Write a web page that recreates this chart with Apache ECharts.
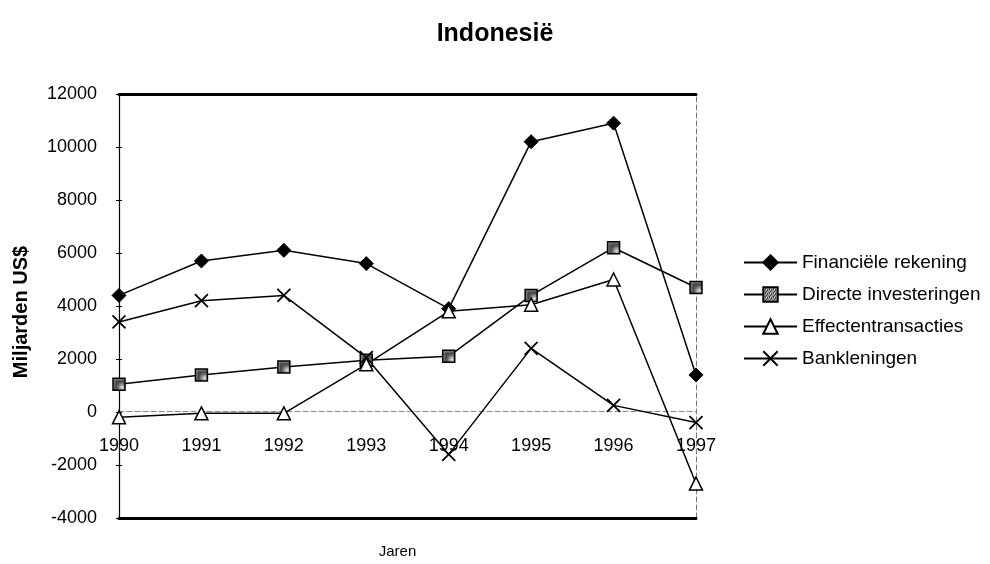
<!DOCTYPE html>
<html>
<head>
<meta charset="utf-8">
<script src="https://cdn.jsdelivr.net/npm/echarts@6/dist/echarts.min.js"></script>
<style>
  html, body { margin: 0; padding: 0; background: #fff; }
  #chart { width: 990px; height: 564px; }
</style>
</head>
<body>
<div id="chart"></div>
<script>
// Kapitaalstromen Indonesië, 1990-1997 (miljarden US$)
const years = ['1990', '1991', '1992', '1993', '1994', '1995', '1996', '1997'];
const financieleRekening = [4400, 5700, 6100, 5600, 3900, 10200, 10900, 1400];
const directeInvesteringen = [1050, 1400, 1700, 1950, 2100, 4400, 6200, 4700];
const effectentransacties = [-200, -50, -50, 1800, 3800, 4050, 5000, -2700];
const bankleningen = [3400, 4200, 4400, 2050, -1600, 2400, 250, -400];

const FONT = 'Liberation Sans';
const Y_MIN = -4000, Y_MAX = 12000, Y_STEP = 2000;
const GRID = { left: 119, right: 294, top: 94, bottom: 42 };

// distance from the bottom of the plot to the zero line, so the year labels sit on y = 0
const plotHeight = 564 - GRID.top - GRID.bottom;
const zeroOffset = plotHeight * (0 - Y_MIN) / (Y_MAX - Y_MIN);

// checkered fill for the square markers
function checker() {
  const c = document.createElement('canvas');
  c.width = 4; c.height = 4;
  const g = c.getContext('2d');
  g.fillStyle = '#444';
  g.fillRect(0, 0, 4, 4);
  g.fillStyle = '#e8e8e8';
  g.fillRect(0, 0, 1, 1);
  g.fillRect(2, 0, 1, 1);
  g.fillRect(1, 1, 1, 1);
  g.fillRect(3, 2, 1, 1);
  g.fillRect(0, 2, 1, 1);
  g.fillRect(2, 3, 1, 1);
  return { image: c, repeat: 'repeat' };
}

const chart = echarts.init(document.getElementById('chart'), null, { renderer: 'canvas' });

const crossPath = 'path://M0,0L10,10M10,0L0,10';

function lineSeries(name, data, symbol, size, itemStyle) {
  return {
    name, type: 'line', data,
    xAxisIndex: 0, yAxisIndex: 0,
    symbol, symbolSize: size, showAllSymbol: true,
    lineStyle: { color: '#000', width: 1.5 },
    itemStyle,
    emphasis: { disabled: true },
    animation: false,
    z: 3
  };
}

const yBase = { type: 'value', min: Y_MIN, max: Y_MAX, interval: Y_STEP };

chart.setOption({
  backgroundColor: '#fff',
  textStyle: { fontFamily: FONT, color: '#000' },
  title: {
    text: 'Indonesië',
    left: 'center', top: 17,
    textStyle: { fontFamily: FONT, fontWeight: 'bold', fontSize: 25, color: '#000' }
  },
  grid: Object.assign({ containLabel: false }, GRID),
  legend: {
    orient: 'vertical',
    left: 738, top: 248,
    itemWidth: 53, itemHeight: 18, itemGap: 13,
    textStyle: { fontFamily: FONT, fontSize: 19, color: '#000', lineHeight: 18 },
    data: ['Financiële rekening', 'Directe investeringen', 'Effectentransacties', 'Bankleningen']
  },
  xAxis: [
    {
      type: 'category', data: years, boundaryGap: false,
      position: 'bottom', offset: -zeroOffset,
      axisLine: { onZero: false, lineStyle: { color: '#888', width: 1, type: [5, 3] } },
      axisTick: { show: false },
      axisLabel: { fontFamily: FONT, fontSize: 18, color: '#000', margin: 26 },
      splitLine: { show: false }
    },
    {
      type: 'category', data: years, boundaryGap: false, position: 'top',
      axisLine: { onZero: false, lineStyle: { color: '#000', width: 3 } },
      axisTick: { show: false }, axisLabel: { show: false }, splitLine: { show: false }
    },
    {
      type: 'category', data: years, boundaryGap: false, position: 'bottom',
      axisLine: { onZero: false, lineStyle: { color: '#000', width: 3 } },
      axisTick: { show: false }, axisLabel: { show: false }, splitLine: { show: false },
      name: 'Jaren', nameLocation: 'middle', nameGap: 26,
      nameTextStyle: { fontFamily: FONT, fontSize: 15, color: '#000', padding: [0, 20, 0, 0] }
    }
  ],
  yAxis: [
    Object.assign({}, yBase, {
      position: 'left',
      axisLine: { show: true, onZero: false, lineStyle: { color: '#000', width: 1.2 } },
      axisTick: { show: true, length: 3, lineStyle: { color: '#000' } },
      axisLabel: { fontFamily: FONT, fontSize: 18, color: '#000', margin: 22, formatter: v => String(v) },
      splitLine: { show: false },
      name: 'Miljarden US$', nameLocation: 'middle', nameGap: 88,
      nameTextStyle: { fontFamily: FONT, fontSize: 20, fontWeight: 'bold', color: '#000', padding: [0, 12, 0, 0] }
    }),
    Object.assign({}, yBase, {
      position: 'left',
      axisLine: { show: false, onZero: false },
      axisTick: { show: true, inside: true, length: 3, lineStyle: { color: '#000' } },
      axisLabel: { show: false }, splitLine: { show: false }
    }),
    Object.assign({}, yBase, {
      position: 'right',
      axisLine: { show: true, onZero: false, lineStyle: { color: '#777', width: 1, type: [5, 3] } },
      axisTick: { show: false }, axisLabel: { show: false }, splitLine: { show: false }
    })
  ],
  series: [
    lineSeries('Financiële rekening', financieleRekening, 'diamond', 14,
      { color: '#000', borderColor: '#000', borderWidth: 1 }),
    lineSeries('Directe investeringen', directeInvesteringen, 'rect', 12,
      { color: checker(), borderColor: '#000', borderWidth: 1.5 }),
    lineSeries('Effectentransacties', effectentransacties, 'triangle', 13,
      { color: '#fff', borderColor: '#000', borderWidth: 1.5 }),
    lineSeries('Bankleningen', bankleningen, crossPath, 13,
      { color: '#000', borderColor: '#000', borderWidth: 1.8 })
  ]
});
</script>
</body>
</html>
